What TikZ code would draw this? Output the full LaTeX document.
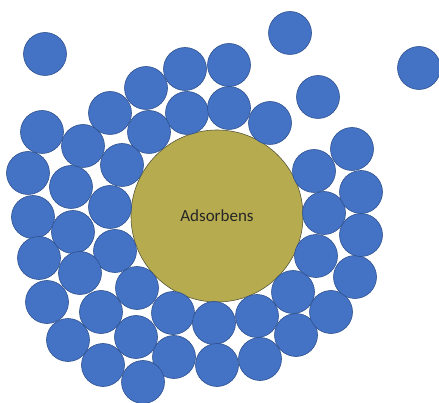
\documentclass[tikz,border=0pt]{standalone}
\usepackage{fontspec}
\setmainfont{Carlito}
\definecolor{ballfill}{HTML}{4472C4}
\definecolor{balledge}{HTML}{2F528F}
\definecolor{adsfill}{RGB}{183,171,80}
\definecolor{adsedge}{HTML}{55573A}
\definecolor{txt}{HTML}{262626}
\begin{document}
\begin{tikzpicture}[x=1pt,y=-1pt,
  ball/.style={circle,fill=ballfill,draw=balledge,line width=0.6pt,minimum size=43pt,inner sep=0pt},
  ads/.style={circle,fill=adsfill,draw=adsedge,line width=0.6pt,minimum size=172pt,inner sep=0pt,font=\fontsize{17}{20}\selectfont,text=txt}]
\useasboundingbox (0,0) rectangle (439,403);
\node[ads] (ads) at (217,216) {Adsorbens};
\foreach \x/\y [count=\i] in {
  45/54, 290/33, 419/68, 318/97,
  185/69, 229/65, 146/88, 187/113, 229/108, 110/113, 149/132, 270/123,
  42/132, 83/146, 122/165, 28/173, 71/187, 110/207,
  33/217, 73/232, 115/251, 39/258, 80/273, 137/288,
  47/302, 101/312, 173/313, 68/340, 136/337, 174/357, 103/365, 143/382,
  214/323, 217/365, 257/316, 260/359, 293/292, 296/335, 331/312,
  355/277, 316/256, 361/235, 324/213, 361/192, 314/171, 352/149}
  \node[ball] (b\i) at (\x,\y) {};
\end{tikzpicture}
\end{document}
